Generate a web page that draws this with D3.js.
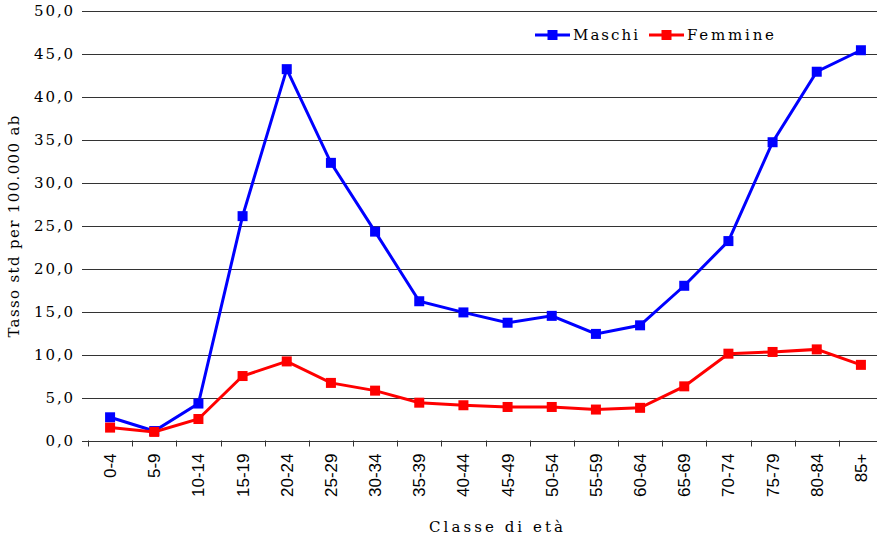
<!DOCTYPE html>
<html>
<head>
<meta charset="utf-8">
<script src="https://cdn.jsdelivr.net/npm/d3@7"></script>
<style>
  body { margin: 0; background: #fff; }
  svg text { font-family: "DejaVu Serif", "Liberation Serif", serif; fill: #000; }
</style>
</head>
<body>
<svg id="chart" width="877" height="539"></svg>
<script>
const classes = ['0-4','5-9','10-14','15-19','20-24','25-29','30-34','35-39','40-44',
    '45-49','50-54','55-59','60-64','65-69','70-74','75-79','80-84','85+'];
const maschi = [2.7, 1.1, 4.3, 26.1, 43.2, 32.3, 24.3, 16.2, 14.9, 13.7, 14.5, 12.4, 13.4, 18.0, 23.2, 34.7, 42.9, 45.4];
const femmine = [1.5, 1.0, 2.5, 7.5, 9.2, 6.7, 5.8, 4.4, 4.1, 3.9, 3.9, 3.6, 3.8, 6.3, 10.1, 10.3, 10.6, 8.8];
const yTicks = [0, 5, 10, 15, 20, 25, 30, 35, 40, 45, 50];

const series = [
    { name: 'Maschi', values: maschi, color: '#0000ff' },
    { name: 'Femmine', values: femmine, color: '#ff0000' },
];

const svg = d3.select('#chart');
const mLeft = 88, mRight = 883, mTop = 10.7, mBottom = 440.5;

const x = d3.scaleBand().domain(classes).range([mLeft, mRight]);
const y = d3.scaleLinear().domain([0, 50]).range([mBottom, mTop]);
const fmt = v => d3.format('.1f')(v).replace('.', ',');

// gridlines + y labels
const yAxis = d3.axisLeft(y).tickValues(yTicks).tickSize(-(mRight - mLeft) - 6).tickFormat(fmt).tickPadding(6);
svg.append('g')
    .attr('transform', `translate(${mLeft - 6},0)`)
    .call(yAxis)
    .call(g => g.select('.domain').remove())
    .call(g => g.selectAll('line').attr('stroke', '#333').attr('shape-rendering', 'crispEdges'))
    .call(g => g.selectAll('text').attr('font-size', 15).attr('letter-spacing', 1.9).attr('x', -7));

// x axis ticks at band boundaries
svg.append('g').selectAll('line')
    .data(classes.concat([null]))
    .join('line')
    .attr('x1', (d, i) => Math.round(mLeft + i * x.step()) + 0.5)
    .attr('x2', (d, i) => Math.round(mLeft + i * x.step()) + 0.5)
    .attr('y1', mBottom).attr('y2', mBottom + 6)
    .attr('stroke', '#333');

svg.append('g').selectAll('text')
    .data(classes)
    .join('text')
    .attr('transform', d => `translate(${x(d) + x.bandwidth() / 2 + 6},${mBottom + 13}) rotate(-90)`)
    .attr('text-anchor', 'end')
    .attr('font-size', 17)
    .style('font-family', '"Liberation Sans", Arial, sans-serif')
    .text(d => d);

const line = d3.line()
    .x((d, i) => x(classes[i]) + x.bandwidth() / 2)
    .y(d => y(d));

series.forEach(s => {
    svg.append('path')
        .attr('d', line(s.values))
        .attr('fill', 'none')
        .attr('stroke', s.color)
        .attr('stroke-width', 3);
    svg.append('g').selectAll('rect')
        .data(s.values)
        .join('rect')
        .attr('x', (d, i) => x(classes[i]) + x.bandwidth() / 2 - 5)
        .attr('y', d => y(d) - 5)
        .attr('width', 10).attr('height', 10)
        .attr('fill', s.color);
});

// legend
const legend = svg.append('g').attr('transform', 'translate(535,35)');
const legX = [0, 114];
const legW = [65, 87];
series.forEach((s, i) => {
    const g = legend.append('g').attr('transform', `translate(${legX[i]},0)`);
    g.append('line').attr('x1', 0).attr('x2', 35).attr('stroke', s.color).attr('stroke-width', 3);
    g.append('rect').attr('x', 12.5).attr('y', -5).attr('width', 10).attr('height', 10).attr('fill', s.color);
    g.append('text').attr('x', 38).attr('y', 5).attr('font-size', 15)
        .attr('textLength', legW[i]).attr('lengthAdjust', 'spacing').text(s.name);
});

svg.append('text')
    .attr('transform', `translate(19,${(mTop + mBottom) / 2 + 1}) rotate(-90)`)
    .attr('text-anchor', 'middle')
    .attr('font-size', 15)
    .attr('textLength', 222).attr('lengthAdjust', 'spacing')
    .text('Tasso std per 100.000 ab');

svg.append('text')
    .attr('x', 496)
    .attr('y', 532)
    .attr('text-anchor', 'middle')
    .attr('font-size', 15)
    .attr('textLength', 134).attr('lengthAdjust', 'spacing')
    .text('Classe di età');
</script>
</body>
</html>
